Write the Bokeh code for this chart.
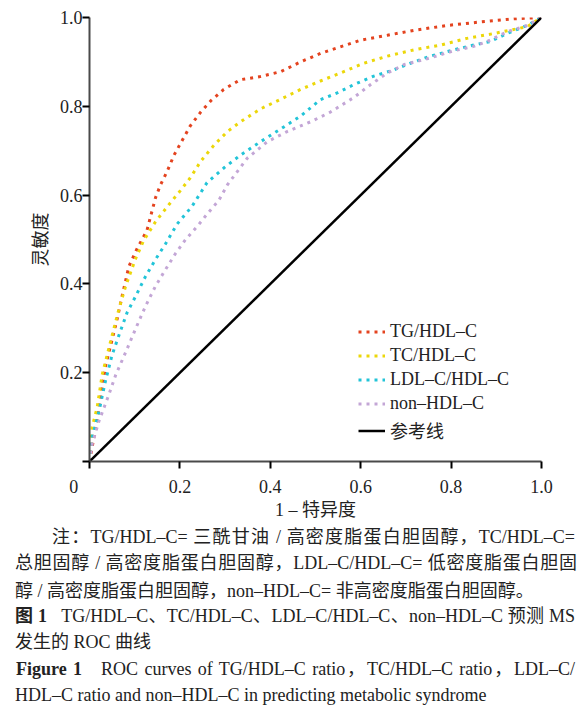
from bokeh.embed import file_html
from bokeh.layouts import column
from bokeh.models import Div, FixedTicker, Legend, LegendItem, Range1d
from bokeh.plotting import figure
from bokeh.resources import INLINE

FONT = "Liberation Serif, Noto Sans CJK SC"
TEXT_COLOR = "#222222"

# ROC curves: (1 - specificity, sensitivity)
tg_fpr = [0, 0.006, 0.02, 0.035, 0.061, 0.072, 0.087, 0.105, 0.127, 0.146, 0.157, 0.172, 0.187, 0.205,
          0.223, 0.246, 0.268, 0.297, 0.334, 0.378, 0.423, 0.467, 0.511, 0.555, 0.6, 0.659, 0.717,
          0.791, 0.865, 0.939, 1.0]
tg_tpr = [0, 0.033, 0.113, 0.213, 0.32, 0.372, 0.439, 0.479, 0.52, 0.594, 0.623, 0.654, 0.69, 0.723,
          0.756, 0.787, 0.812, 0.838, 0.86, 0.867, 0.878, 0.9, 0.919, 0.934, 0.949, 0.96, 0.971,
          0.982, 0.99, 0.997, 1.0]

tc_fpr = [0, 0.006, 0.017, 0.028, 0.046, 0.065, 0.08, 0.102, 0.12, 0.146, 0.176, 0.201, 0.223, 0.246,
          0.275, 0.305, 0.334, 0.378, 0.423, 0.467, 0.511, 0.555, 0.607, 0.659, 0.717, 0.777, 0.835,
          0.895, 0.928, 0.968, 1.0]
tc_tpr = [0, 0.078, 0.122, 0.195, 0.268, 0.343, 0.395, 0.457, 0.498, 0.54, 0.579, 0.61, 0.639, 0.676,
          0.712, 0.743, 0.765, 0.794, 0.816, 0.838, 0.857, 0.875, 0.897, 0.913, 0.927, 0.938, 0.953,
          0.964, 0.971, 0.979, 1.0]

ldl_fpr = [0, 0.006, 0.021, 0.035, 0.05, 0.065, 0.083, 0.102, 0.124, 0.146, 0.168, 0.194, 0.227, 0.26,
           0.297, 0.334, 0.378, 0.423, 0.467, 0.511, 0.548, 0.585, 0.629, 0.673, 0.71, 0.754, 0.806,
           0.85, 0.887, 0.924, 0.968, 1.0]
ldl_tpr = [0, 0.055, 0.113, 0.18, 0.24, 0.284, 0.335, 0.372, 0.417, 0.455, 0.49, 0.535, 0.575, 0.628,
           0.661, 0.69, 0.72, 0.749, 0.778, 0.815, 0.83, 0.849, 0.868, 0.882, 0.897, 0.913, 0.927,
           0.938, 0.946, 0.964, 0.982, 1.0]

non_fpr = [0, 0.006, 0.021, 0.043, 0.058, 0.08, 0.102, 0.124, 0.146, 0.168, 0.19, 0.212, 0.242, 0.26,
           0.286, 0.305, 0.349, 0.393, 0.437, 0.489, 0.533, 0.585, 0.622, 0.659, 0.696, 0.74, 0.806,
           0.85, 0.88, 0.924, 0.968, 1.0]
non_tpr = [0, 0.04, 0.091, 0.151, 0.195, 0.246, 0.299, 0.35, 0.395, 0.432, 0.468, 0.499, 0.534, 0.557,
           0.588, 0.623, 0.683, 0.72, 0.743, 0.765, 0.787, 0.82, 0.849, 0.875, 0.894, 0.905, 0.925,
           0.935, 0.946, 0.968, 0.982, 1.0]

ref_x = [0, 1]
ref_y = [0, 1]

series_names = ["TG/HDL–C", "TC/HDL–C", "LDL–C/HDL–C", "non–HDL–C"]
series_colors = ["#e4431f", "#ecd70a", "#22c4d8", "#c3a6d6"]
ref_name = "参考线"

ticks = [0, 0.2, 0.4, 0.6, 0.8, 1.0]
# the shared origin "0" sits left of the corner, padded with no-break spaces
x_tick_labels = ["0" + "\u00a0" * 7, "0.2", "0.4", "0.6", "0.8", "1.0"]
y_tick_labels = ["", "0.2", "0.4", "0.6", "0.8", "1.0"]

x_title = "1 – 特异度"
y_title = "灵敏度"

# caption lines (page pixels); justified lines run from left to right edge
caption_lines = [
    "注：TG/HDL–C= 三酰甘油 / 高密度脂蛋白胆固醇，TC/HDL–C=",
    "总胆固醇 / 高密度脂蛋白胆固醇，LDL–C/HDL–C= 低密度脂蛋白胆固",
    "醇 / 高密度脂蛋白胆固醇，non–HDL–C= 非高密度脂蛋白胆固醇。",
    "<b>图 1</b>&nbsp;&nbsp; TG/HDL–C、TC/HDL–C、LDL–C/HDL–C、non–HDL–C 预测 MS",
    "发生的 ROC 曲线",
    "<b>Figure 1</b>&nbsp;&nbsp; ROC curves of TG/HDL–C ratio，TC/HDL–C ratio，LDL–C/",
    "HDL–C ratio and non–HDL–C in predicting metabolic syndrome",
]
caption_left = [52, 15, 15, 15, 15, 16, 15]
caption_right = [575, 577, None, 575, None, 575, None]
caption_y = [537, 563, 591, 616, 642, 669, 695]

PAGE_W = 581
PLOT_H = 522
CAPTION_H = 184
LINE_H = 26

p = figure(width=PAGE_W, height=PLOT_H, output_backend="svg", toolbar_location=None,
           x_range=Range1d(0, 1), y_range=Range1d(0, 1),
           min_border_left=89, min_border_right=40, min_border_top=17, min_border_bottom=PLOT_H - 468)
p.xgrid.visible = False
p.ygrid.visible = False
p.outline_line_color = None

for ax, labels in ((p.xaxis[0], x_tick_labels), (p.yaxis[0], y_tick_labels)):
    ax.ticker = FixedTicker(ticks=ticks)
    ax.major_label_overrides = dict(zip(ticks, labels))
    ax.minor_tick_line_color = None
    ax.major_tick_in = 0
    ax.major_tick_out = 7
    ax.major_tick_line_color = "black"
    ax.major_tick_line_width = 2
    ax.axis_line_color = "#4a4a4a"
    ax.axis_line_width = 2
    ax.major_label_text_font = FONT
    ax.major_label_text_font_size = "18px"
    ax.major_label_text_color = TEXT_COLOR
    ax.axis_label_text_font = FONT
    ax.axis_label_text_font_size = "18px"
    ax.axis_label_text_font_style = "normal"
    ax.axis_label_text_color = TEXT_COLOR

p.xaxis.axis_label = x_title
p.yaxis.axis_label = y_title
p.xaxis.major_label_standoff = 8
p.yaxis.major_label_standoff = 0
p.xaxis.axis_label_standoff = 0
p.yaxis.axis_label_standoff = 6

renderers = []
for xs, ys, color in zip([tg_fpr, tc_fpr, ldl_fpr, non_fpr], [tg_tpr, tc_tpr, ldl_tpr, non_tpr],
                         series_colors):
    r = p.line(xs, ys, line_color=color, line_width=3, line_dash="3 5")
    renderers.append(r)
ref = p.line(ref_x, ref_y, line_color="black", line_width=2.5)

items = [LegendItem(label=name, renderers=[r]) for name, r in zip(series_names, renderers)]
items.append(LegendItem(label=ref_name, renderers=[ref]))
legend = Legend(items=items, location=(269, 18), padding=0, margin=0, spacing=3,
                glyph_width=27, glyph_height=21, label_height=21, label_standoff=5,
                label_text_font=FONT, label_text_font_size="18px", label_text_color=TEXT_COLOR,
                border_line_color=None, background_fill_alpha=0)
p.add_layout(legend)

# caption block below the chart
rows = []
for text, left, right, y in zip(caption_lines, caption_left, caption_right, caption_y):
    top = y - PLOT_H - LINE_H // 2
    if right is None:
        style = f"left:{left}px;"
    else:
        style = f"left:{left}px;width:{right - left}px;text-align:justify;text-align-last:justify;"
    rows.append(f'<div style="position:absolute;top:{top}px;{style}line-height:{LINE_H}px;'
                f'white-space:nowrap;">{text}</div>')
caption_html = (f'<div style="position:relative;width:{PAGE_W}px;height:{CAPTION_H}px;'
                f"font-family:'Liberation Serif','Noto Sans CJK SC';font-size:18px;color:{TEXT_COLOR};\">"
                + "".join(rows) + "</div>")
cap = Div(text=caption_html, width=PAGE_W, height=CAPTION_H, margin=0)

layout = column(p, cap, spacing=0)
open("out.html", "w").write(file_html(layout, INLINE))
